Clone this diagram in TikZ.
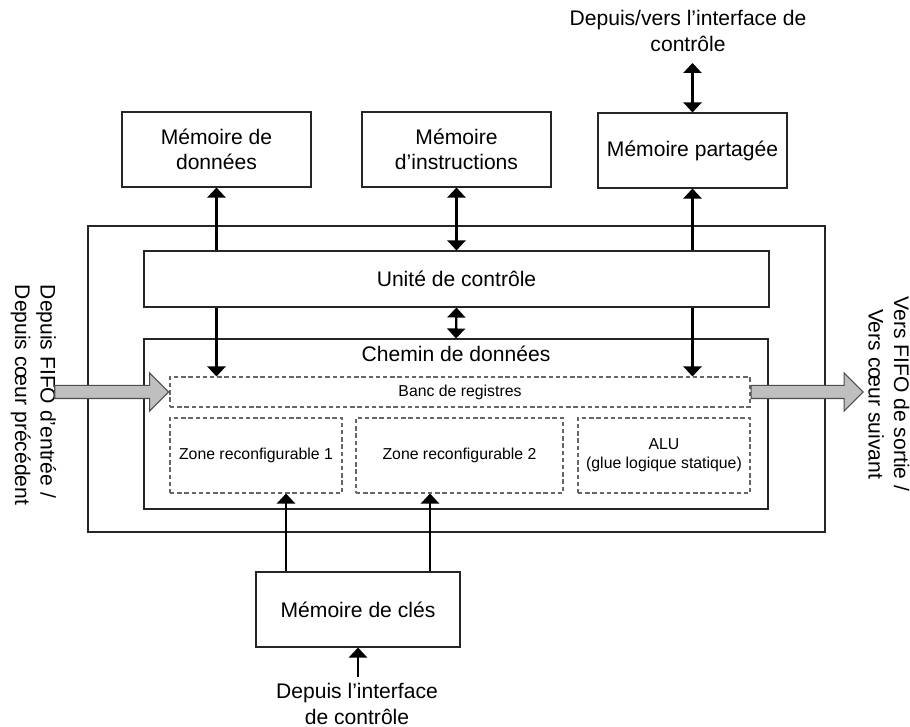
\documentclass[tikz,border=0pt]{standalone}
\usepackage{fontspec}
\setmainfont{Liberation Sans}
\usepackage{tikz}
\usetikzlibrary{arrows.meta, positioning, shapes.arrows}

\begin{document}
\begin{tikzpicture}[
                % Stile dei blocchi a bordo continuo
                blocco/.style={
                    draw=black!85,
                    rectangle,
                    line width=0.6pt,
                    inner sep=0pt,
                    align=center,
                    font=\fontsize{12}{14.5}\selectfont
                },
                % Stile delle zone tratteggiate
                zona/.style={
                    draw=black!60,
                    rectangle,
                    line width=0.6pt,
                    dash pattern=on 2.5pt off 1.6pt,
                    inner sep=0pt,
                    align=center,
                    font=\fontsize{9}{11}\selectfont
                },
                testo/.style={align=center, font=\fontsize{12}{14.5}\selectfont},
                verticale/.style={rotate=-90, font=\fontsize{12}{14.5}\selectfont},
                % Frecce semplici e doppie
                freccia/.style={
                    -{Triangle[length=2mm, width=3.6mm]},
                    line width=1.3pt
                },
                doppia/.style={
                    {Triangle[length=2mm, width=3.6mm]}-{Triangle[length=2mm, width=3.6mm]},
                    line width=1.3pt
                },
                % Frecce grosse grigie (ingresso / uscita)
                grossa/.style={
                    single arrow,
                    draw=black!70,
                    fill=gray!50,
                    line width=0.6pt,
                    inner sep=0pt,
                    inner ysep=0.12cm,
                    single arrow head extend=0.25cm,
                    single arrow tip angle=90,
                    minimum width=0pt
                }
            ]
                \useasboundingbox (0,0) rectangle (18.2,14.54);

                % 1. Il processore e i suoi blocchi interni
                \node [blocco, minimum width=14.74cm, minimum height=6.12cm] (processeur) at (9.13,6.96) {};
                \node [blocco, minimum width=12.5cm, minimum height=1.12cm] (unite) at (9.13,8.96) {Unité de contrôle};
                \node [blocco, minimum width=12.48cm, minimum height=3.4cm] (chemin) at (9.12,6.06) {};
                \node [testo, below=1pt of chemin.north] (titrechemin) {Chemin de données};
                \node [zona, minimum width=11.6cm, minimum height=0.6cm] (banc) at (9.2,6.7) {Banc de registres};
                \node [zona, minimum width=3.44cm, minimum height=1.5cm] (zone1) at (5.12,5.43) {Zone reconfigurable 1};
                \node [zona, minimum width=4.14cm, minimum height=1.5cm] (zone2) at (9.19,5.43) {Zone reconfigurable 2};
                \node [zona, minimum width=3.44cm, minimum height=1.5cm] (alu) at (13.28,5.43) {ALU\\(glue logique statique)};

                % 2. Le memorie
                \node [blocco, minimum width=3.78cm, minimum height=1.5cm] (memdonnees) at (4.33,11.55) {Mémoire de\\données};
                \node [blocco, minimum width=3.78cm, minimum height=1.5cm] (meminstr) at (9.13,11.55) {Mémoire\\d’instructions};
                \node [blocco, minimum width=3.78cm, minimum height=1.5cm] (mempartagee) at (13.85,11.53) {Mémoire partagée};
                \node [blocco, minimum width=4.08cm, minimum height=1.5cm] (memcles) at (7.16,2.35) {Mémoire de clés};

                % 3. Testi esterni
                \node [testo] (ifcontrole) at (13.76,13.92) {Depuis/vers l’interface de\\contrôle};
                \node [testo] (ifcles) at (7.14,0.46) {Depuis l’interface\\de contrôle};
                \node [verticale, align=left] (fifoin) at (0.67,6.64) {Depuis FIFO d’entrée /\\Depuis cœur précédent};
                \node [verticale, align=center] (fifoout) at (17.78,6.66) {Vers FIFO de sortie /\\Vers cœur suivant};

                % 4. Frecce grosse verso e dal banco di registri
                \node [grossa, anchor=tip, minimum height=2.28cm] (entree) at (banc.west) {};
                \node [grossa, anchor=tail, minimum height=2.24cm] (sortie) at (banc.east) {};

                % 5. Collegamenti
                \draw [freccia] (unite.north -| memdonnees.south) -- (memdonnees.south);
                \draw [freccia] (unite.south -| memdonnees.south) -- (banc.north -| memdonnees.south);
                \draw [doppia] (unite.north -| meminstr.south) -- (meminstr.south);
                \draw [freccia] (unite.north -| mempartagee.south) -- (mempartagee.south);
                \draw [freccia] (unite.south -| mempartagee.south) -- (banc.north -| mempartagee.south);
                \draw [doppia] (unite.south) -- (chemin.north);
                \draw [doppia, shorten <=3pt] (ifcontrole.south -| mempartagee.north) -- (mempartagee.north);
                \draw [freccia] (ifcles.north -| memcles.south) -- (memcles.south);
                \draw [freccia] ([xshift=-1.44cm]memcles.north) -- ([xshift=-1.44cm]memcles.north |- zone1.south);
                \draw [freccia] ([xshift=1.44cm]memcles.north) -- ([xshift=1.44cm]memcles.north |- zone2.south);

            \end{tikzpicture}
\end{document}
